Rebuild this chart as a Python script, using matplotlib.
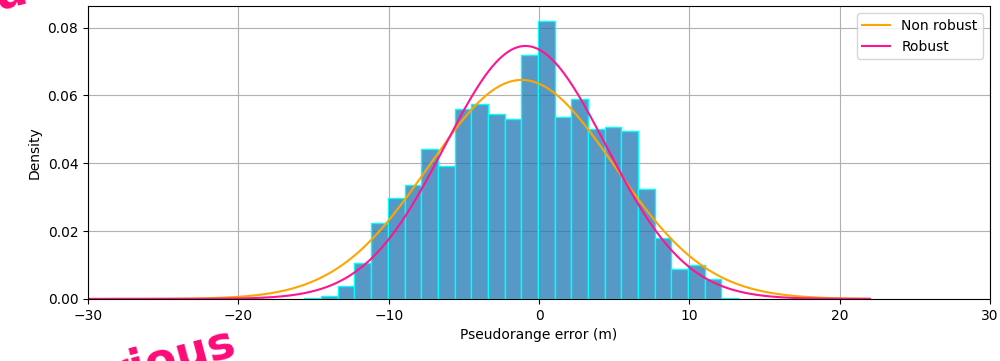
import numpy as np
import matplotlib
matplotlib.use('Agg')
import matplotlib.pyplot as plt

# Histogram of pseudorange errors (density)
bin_start = -15.6
bin_width = 1.109
density = [0.0002, 0.0009, 0.0038, 0.0107, 0.0225, 0.0297, 0.0335, 0.0441,
           0.0393, 0.0559, 0.0575, 0.0544, 0.0530, 0.0719, 0.0819, 0.0537,
           0.0590, 0.0500, 0.0508, 0.0496, 0.0324, 0.0180, 0.0088, 0.0099,
           0.0058, 0.0002]

# Gaussian fits (mean, std)
nonrobust_mu, nonrobust_sigma = -1.15, 6.18
robust_mu, robust_sigma = -0.9, 5.35
curve_range = (-30, 22)

edges = bin_start + bin_width * np.arange(len(density) + 1)


def gauss(x, mu, sigma):
    return np.exp(-0.5 * ((x - mu) / sigma) ** 2) / (sigma * np.sqrt(2 * np.pi))


fig = plt.figure(figsize=(10, 3.61), dpi=100)
ax = fig.add_axes([0.088, 0.172, 0.902, 0.811])

ax.bar(edges[:-1], density, width=bin_width, align='edge',
       facecolor=(0.122, 0.467, 0.706, 0.75), edgecolor='cyan', linewidth=1)

x = np.linspace(curve_range[0], curve_range[1], 500)
ax.plot(x, gauss(x, nonrobust_mu, nonrobust_sigma), color='orange', lw=1.5, label='Non robust')
ax.plot(x, gauss(x, robust_mu, robust_sigma), color='deeppink', lw=1.5, label='Robust')

ax.set_xlim(-30, 30)
ax.set_xticks([-30, -20, -10, 0, 10, 20, 30])
ax.set_ylim(0, 0.0863)
ax.set_yticks([0, 0.02, 0.04, 0.06, 0.08])
ax.grid(True)
ax.set_axisbelow(True)
ax.set_xlabel('Pseudorange error (m)')
ax.set_ylabel('Density')
ax.legend(loc='upper right')

# pink sticker text partly off the canvas (as in the source image)
fig.text(0.24, -0.10, 'rious', color='#ff0a78', fontsize=33, fontweight='bold',
         rotation=15, ha='right', va='bottom')
fig.text(0.012, 1.015, 'a', color='#ff0a78', fontsize=33, fontweight='bold',
         rotation=15, ha='center', va='center')

fig.savefig('out.png', dpi=100)
